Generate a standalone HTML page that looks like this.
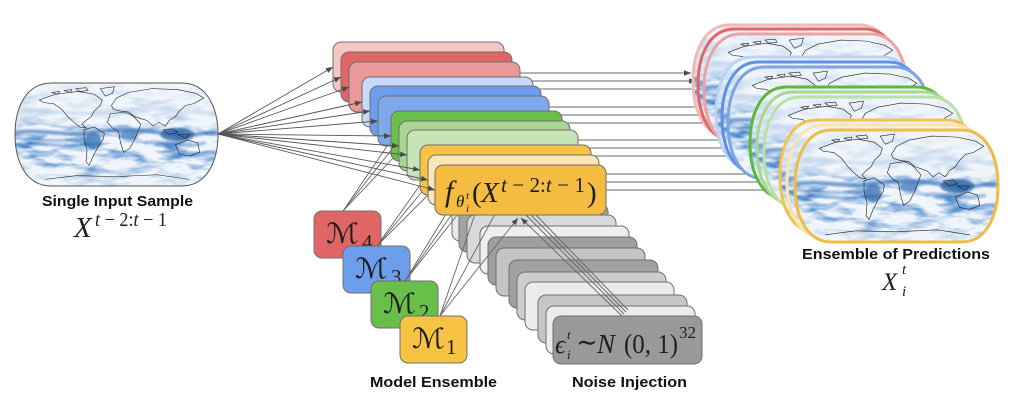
<!DOCTYPE html>
<html><head><meta charset="utf-8"><style>html,body{margin:0;padding:0;background:#fff;width:1024px;height:404px;overflow:hidden}svg{display:block}</style></head>
<body>
<svg width="1024" height="404" viewBox="0 0 1024 404" xmlns="http://www.w3.org/2000/svg" xmlns:xlink="http://www.w3.org/1999/xlink">
<defs>
<marker id="a" viewBox="0 0 10 8" refX="10" refY="4" markerWidth="7" markerHeight="5.6" orient="auto" markerUnits="userSpaceOnUse"><path d="M0,0L10,4L0,8z" fill="#4a4a4a"/></marker>
<filter id="bl" x="-5%" y="-5%" width="110%" height="110%"><feGaussianBlur stdDeviation="1.1"/></filter>
<filter id="turb" x="0" y="0" width="100%" height="100%" color-interpolation-filters="sRGB">
<feTurbulence type="fractalNoise" baseFrequency="0.035 0.11" numOctaves="3" seed="7"/>
<feColorMatrix type="matrix" values="0 0 0 0 0.24  0 0 0 0 0.5  0 0 0 0 0.78  2.8 0 0 0 -1.22"/>
</filter>
<linearGradient id="lat" x1="0" y1="0" x2="0" y2="1">
<stop offset="0" stop-color="#fff" stop-opacity="0.1"/>
<stop offset="0.35" stop-color="#fff" stop-opacity="0.35"/>
<stop offset="0.5" stop-color="#fff" stop-opacity="1"/>
<stop offset="0.78" stop-color="#fff" stop-opacity="0.9"/>
<stop offset="1" stop-color="#fff" stop-opacity="0.3"/>
</linearGradient>
<mask id="latm" maskUnits="userSpaceOnUse" x="0" y="0" width="200" height="110"><rect width="200" height="110" fill="url(#lat)"/></mask>
<path id="shp" d="M36,0 L164,0 C190,0 200,28 200,55 C200,82 190,110 164,110 L36,110 C10,110 0,82 0,55 C0,28 10,0 36,0 Z" vector-effect="non-scaling-stroke"/>
<clipPath id="mclip"><path d="M36,0 L164,0 C190,0 200,28 200,55 C200,82 190,110 164,110 L36,110 C10,110 0,82 0,55 C0,28 10,0 36,0 Z"/></clipPath>
<g id="mc">
<rect width="200" height="110" fill="#f0f5fb"/>
<g mask="url(#latm)"><rect width="200" height="110" fill="#fff" filter="url(#turb)"/></g>
<g filter="url(#bl)" fill="none">
<path d="M0,31 C30,25 60,37 90,31 S150,27 200,33" stroke="#c3d6ec" stroke-width="4" opacity="0.6"/>
<path d="M0,53 C25,49 50,57 75,53 S120,49 150,54 S185,51 200,53" stroke="#3f78bb" stroke-width="4" opacity="0.7"/>
<path d="M0,59 C30,61 50,63 70,60" stroke="#5d90cb" stroke-width="3" opacity="0.6"/>
<ellipse cx="77" cy="62" rx="8" ry="9" fill="#3b74b6" opacity="0.8"/>
<ellipse cx="112" cy="56" rx="9" ry="5" fill="#4a80be" opacity="0.8"/>
<ellipse cx="160" cy="55" rx="17" ry="7" fill="#2d66aa" opacity="0.8"/>
<path d="M10,66 C30,62 45,70 60,66" stroke="#4d83c2" stroke-width="3" opacity="0.6"/>
<path d="M128,64 C145,60 160,70 188,64" stroke="#5589c4" stroke-width="3" opacity="0.6"/>
</g>
<g fill="none" stroke="#222" stroke-width="0.6">
<path d="M24,18 L40,12 L62,9 L78,12 L86,18 L84,24 L78,30 L75,36 L70,40 L66,44 L70,48 L64,47 L58,42 L52,36 L46,28 L38,22 L28,21 Z"/>
<path d="M84,6 L98,4 L96,11 L89,14 Z"/>
<path d="M60,6 L70,5 L72,8 L64,9 Z M48,8 L56,7 L55,10 Z M36,10 L44,9 L42,12 Z"/>
<path d="M68,50 L78,47 L88,54 L87,60 L82,68 L77,78 L73,88 L70,84 L71,72 L68,60 Z"/>
<path d="M95,24 L100,16 L112,10 L135,6 L160,7 L178,11 L186,16 L176,22 L168,24 L162,30 L158,36 L152,40 L148,46 L142,42 L136,46 L130,40 L124,38 L118,36 L112,31 L104,30 L97,28 Z"/>
<path d="M94,33 L108,31 L116,35 L124,44 L121,52 L118,60 L113,70 L107,74 L104,64 L102,52 L96,48 L91,42 Z"/>
<path d="M158,66 L170,61 L180,64 L182,74 L172,78 L162,76 Z"/>
<path d="M146,50 L156,49 L160,53 L152,55 Z M160,55 L172,55 L168,59 Z"/>
<path d="M30,103 L60,99 L100,100 L140,98 L172,103"/>
</g>
</g>
</defs>

<rect width="1024" height="404" fill="#fff"/>

<!-- input map -->
<g transform="translate(15,83) scale(1.015,0.936)">
<g clip-path="url(#mclip)"><use xlink:href="#mc"/></g>
<use xlink:href="#shp" fill="none" stroke="#555" stroke-width="1"/>
</g>

<!-- noise boxes -->
<g stroke="#6f6f6f" stroke-width="1">
<rect x="452" y="193" width="149" height="48" rx="8" fill="#e8e8e8"/>
<rect x="459" y="204" width="149" height="48" rx="8" fill="#a3a3a3"/>
<rect x="467" y="215" width="149" height="48" rx="8" fill="#d9d9d9"/>
<rect x="480" y="226" width="149" height="48" rx="8" fill="#eeeeee"/>
<rect x="488" y="237" width="149" height="48" rx="8" fill="#9f9f9f"/>
<rect x="496" y="248" width="149" height="48" rx="8" fill="#c4c4c4"/>
<rect x="509" y="260" width="149" height="48" rx="8" fill="#a1a1a1"/>
<rect x="517" y="272" width="149" height="48" rx="8" fill="#cdcdcd"/>
<rect x="525" y="282" width="149" height="48" rx="8" fill="#ebebeb"/>
<rect x="538" y="295" width="149" height="48" rx="8" fill="#c6c6c6"/>
<rect x="546" y="306" width="149" height="48" rx="8" fill="#ececec"/>
<rect x="553" y="316" width="149" height="48" rx="8" fill="#999999"/>
</g>
<g font-family="'Liberation Serif','DejaVu Serif',serif" fill="#1e1e1e">
<text x="555" y="353" font-style="italic" font-size="26">ϵ</text>
<text x="567" y="339" font-style="italic" font-size="13">t</text>
<text x="567" y="359" font-style="italic" font-size="13">i</text>
<text x="576" y="351" font-size="26" font-family="'DejaVu Serif',serif">∼</text>
<text x="597" y="353" font-style="italic" font-size="27">N</text>
<text x="624" y="353" font-size="27" textLength="54" lengthAdjust="spacingAndGlyphs">(0, 1)</text>
<text x="679" y="338" font-size="17">32</text>
</g>

<!-- M boxes -->
<rect x="314" y="211" width="67" height="47" rx="8" fill="#e06666" stroke="#6f6f6f"/>
<g font-family="'DejaVu Serif','DejaVu Sans',serif" fill="#1e1e1e">
<text x="326" y="243" font-size="28" textLength="33" lengthAdjust="spacingAndGlyphs">ℳ</text>
<text x="362" y="249" font-size="21" font-family="'Liberation Serif',serif">4</text>
</g>
<rect x="343" y="246" width="67" height="47" rx="8" fill="#6d9eeb" stroke="#6f6f6f"/>
<g font-family="'DejaVu Serif','DejaVu Sans',serif" fill="#1e1e1e">
<text x="355" y="278" font-size="28" textLength="33" lengthAdjust="spacingAndGlyphs">ℳ</text>
<text x="391" y="284" font-size="21" font-family="'Liberation Serif',serif">3</text>
</g>
<rect x="371" y="281" width="67" height="47" rx="8" fill="#6abf4b" stroke="#6f6f6f"/>
<g font-family="'DejaVu Serif','DejaVu Sans',serif" fill="#1e1e1e">
<text x="383" y="313" font-size="28" textLength="33" lengthAdjust="spacingAndGlyphs">ℳ</text>
<text x="419" y="319" font-size="21" font-family="'Liberation Serif',serif">2</text>
</g>
<rect x="400" y="316" width="67" height="47" rx="8" fill="#f6c343" stroke="#6f6f6f"/>
<g font-family="'DejaVu Serif','DejaVu Sans',serif" fill="#1e1e1e">
<text x="412" y="348" font-size="28" textLength="33" lengthAdjust="spacingAndGlyphs">ℳ</text>
<text x="446" y="354" font-size="21" font-family="'Liberation Serif',serif">1</text>
</g>

<!-- M lines and noise lines -->
<g stroke="#666" stroke-width="0.9" fill="none">
<line x1="343" y1="211" x2="398" y2="130"/>
<line x1="343" y1="211" x2="404" y2="134"/>
<line x1="343" y1="211" x2="410" y2="140"/>
<line x1="377" y1="246" x2="425" y2="178"/>
<line x1="377" y1="246" x2="430" y2="182"/>
<line x1="377" y1="246" x2="435" y2="188"/>
<line x1="405" y1="281" x2="446" y2="214"/>
<line x1="405" y1="281" x2="452" y2="214"/>
<line x1="405" y1="281" x2="458" y2="214"/>
<line x1="440" y1="316" x2="518" y2="218" marker-end="url(#a)"/>
<line x1="440" y1="316" x2="495" y2="214"/>
<line x1="440" y1="316" x2="475" y2="214"/>
<line x1="622" y1="316" x2="521" y2="218" marker-end="url(#a)"/>
<line x1="624" y1="314" x2="526" y2="215"/>
<line x1="626" y1="312" x2="531" y2="215"/>
<line x1="628" y1="310" x2="536" y2="215"/>
</g>

<!-- right lines -->
<g stroke="#6a6a6a" stroke-width="1" marker-end="url(#a)">
<line x1="470" y1="73" x2="691" y2="73"/>
<line x1="470" y1="81" x2="696" y2="81"/>
<line x1="470" y1="89" x2="702" y2="89"/>
<line x1="470" y1="107" x2="714" y2="107"/>
<line x1="470" y1="115" x2="720" y2="115"/>
<line x1="470" y1="123" x2="726" y2="123"/>
<line x1="470" y1="140" x2="748" y2="140"/>
<line x1="470" y1="148" x2="755" y2="148"/>
<line x1="470" y1="156" x2="762" y2="156"/>
<line x1="470" y1="174" x2="778" y2="174"/>
<line x1="470" y1="182" x2="785" y2="182"/>
<line x1="470" y1="190" x2="793" y2="190"/>
</g>

<!-- model boxes -->
<g stroke="#6f6f6f" stroke-width="1">
<rect x="333" y="42" width="171" height="50" rx="8" fill="#f4c7c3"/>
<rect x="341" y="52" width="171" height="50" rx="8" fill="#e06666"/>
<rect x="349" y="62" width="171" height="50" rx="8" fill="#ea9999"/>
<rect x="362" y="77" width="171" height="50" rx="8" fill="#c9daf8"/>
<rect x="370" y="86" width="171" height="50" rx="8" fill="#6d9eeb"/>
<rect x="378" y="96" width="171" height="50" rx="8" fill="#7ea7ec"/>
<rect x="391" y="111" width="171" height="50" rx="8" fill="#6abf4b"/>
<rect x="399" y="121" width="171" height="50" rx="8" fill="#a9d693"/>
<rect x="407" y="130" width="171" height="50" rx="8" fill="#c6e5b6"/>
<rect x="420" y="145" width="171" height="50" rx="8" fill="#f6c343"/>
<rect x="428" y="155" width="171" height="50" rx="8" fill="#fbe6b8"/>
<rect x="435" y="165" width="171" height="50" rx="8" fill="#f4bd42"/>
</g>
<g font-family="'Liberation Serif','DejaVu Serif',serif" fill="#1e1e1e">
<text x="445" y="201" font-style="italic" font-size="30">f</text>
<text x="456" y="207" font-style="italic" font-size="17">θ</text>
<text x="466" y="199" font-style="italic" font-size="11">t</text>
<text x="466" y="212" font-style="italic" font-size="11">i</text>
<text x="472" y="202" font-size="29">(</text>
<text x="481" y="202" font-style="italic" font-size="29">X</text>
<text x="501" y="192" font-size="21" textLength="84" lengthAdjust="spacingAndGlyphs"><tspan font-style="italic">t</tspan> − 2:<tspan font-style="italic">t</tspan> − 1</text>
<text x="587" y="202" font-size="29">)</text>
</g>

<!-- fan lines -->
<g stroke="#555" stroke-width="0.9" marker-end="url(#a)">
<line x1="218" y1="134" x2="333" y2="67"/>
<line x1="218" y1="134" x2="341" y2="77"/>
<line x1="218" y1="134" x2="349" y2="87"/>
<line x1="218" y1="134" x2="362" y2="102"/>
<line x1="218" y1="134" x2="370" y2="111"/>
<line x1="218" y1="134" x2="378" y2="121"/>
<line x1="218" y1="134" x2="391" y2="136"/>
<line x1="218" y1="134" x2="399" y2="146"/>
<line x1="218" y1="134" x2="407" y2="155"/>
<line x1="218" y1="134" x2="420" y2="170"/>
<line x1="218" y1="134" x2="428" y2="180"/>
<line x1="218" y1="134" x2="435" y2="190"/>
</g>

<!-- prediction maps -->
<g transform="translate(693,25) scale(1.015,1.018)"><g clip-path="url(#mclip)"><use xlink:href="#mc"/></g><use xlink:href="#shp" fill="none" stroke="#f3b9b6" stroke-width="3"/></g>
<g transform="translate(698,29) scale(1.015,1.018)"><g clip-path="url(#mclip)"><use xlink:href="#mc"/></g><use xlink:href="#shp" fill="none" stroke="#e06666" stroke-width="3"/></g>
<g transform="translate(704,34) scale(1.015,1.018)"><g clip-path="url(#mclip)"><use xlink:href="#mc"/></g><use xlink:href="#shp" fill="none" stroke="#eba3a0" stroke-width="3"/></g>
<g transform="translate(716,57) scale(1.015,1.018)"><g clip-path="url(#mclip)"><use xlink:href="#mc"/></g><use xlink:href="#shp" fill="none" stroke="#bcd2f5" stroke-width="3"/></g>
<g transform="translate(722,62) scale(1.015,1.018)"><g clip-path="url(#mclip)"><use xlink:href="#mc"/></g><use xlink:href="#shp" fill="none" stroke="#5f90e4" stroke-width="3"/></g>
<g transform="translate(728,67) scale(1.015,1.018)"><g clip-path="url(#mclip)"><use xlink:href="#mc"/></g><use xlink:href="#shp" fill="none" stroke="#7aa3ea" stroke-width="3"/></g>
<g transform="translate(750,87) scale(1.015,1.018)"><g clip-path="url(#mclip)"><use xlink:href="#mc"/></g><use xlink:href="#shp" fill="none" stroke="#5cb83c" stroke-width="3"/></g>
<g transform="translate(757,92) scale(1.015,1.018)"><g clip-path="url(#mclip)"><use xlink:href="#mc"/></g><use xlink:href="#shp" fill="none" stroke="#a8d88f" stroke-width="3"/></g>
<g transform="translate(764,97) scale(1.015,1.018)"><g clip-path="url(#mclip)"><use xlink:href="#mc"/></g><use xlink:href="#shp" fill="none" stroke="#b9e0a6" stroke-width="3"/></g>
<g transform="translate(780,120) scale(1.015,1.018)"><g clip-path="url(#mclip)"><use xlink:href="#mc"/></g><use xlink:href="#shp" fill="none" stroke="#f3c24f" stroke-width="3"/></g>
<g transform="translate(787,125) scale(1.015,1.018)"><g clip-path="url(#mclip)"><use xlink:href="#mc"/></g><use xlink:href="#shp" fill="none" stroke="#fbe4b0" stroke-width="3"/></g>
<g transform="translate(795,130) scale(1.015,1.018)"><g clip-path="url(#mclip)"><use xlink:href="#mc"/></g><use xlink:href="#shp" fill="none" stroke="#efbd44" stroke-width="3"/></g>

<!-- labels -->
<g font-family="'Liberation Sans',sans-serif" font-weight="bold" font-size="15" fill="#111">
<text x="42" y="206" textLength="151" lengthAdjust="spacingAndGlyphs">Single Input Sample</text>
<text x="370" y="387" textLength="127" lengthAdjust="spacingAndGlyphs">Model Ensemble</text>
<text x="572" y="387" textLength="115" lengthAdjust="spacingAndGlyphs">Noise Injection</text>
<text x="802" y="259" textLength="188" lengthAdjust="spacingAndGlyphs">Ensemble of Predictions</text>
</g>
<g font-family="'Liberation Serif','DejaVu Serif',serif" fill="#1e1e1e">
<text x="74" y="237" font-style="italic" font-size="29">X</text>
<text x="95" y="226" font-size="20" textLength="72" lengthAdjust="spacingAndGlyphs"><tspan font-style="italic">t</tspan> − 2:<tspan font-style="italic">t</tspan> − 1</text>
<text x="882" y="290" font-style="italic" font-size="25">X</text>
<text x="902" y="274" font-style="italic" font-size="15">t</text>
<text x="902" y="296" font-style="italic" font-size="15">i</text>
</g>
</svg>
</body></html>
